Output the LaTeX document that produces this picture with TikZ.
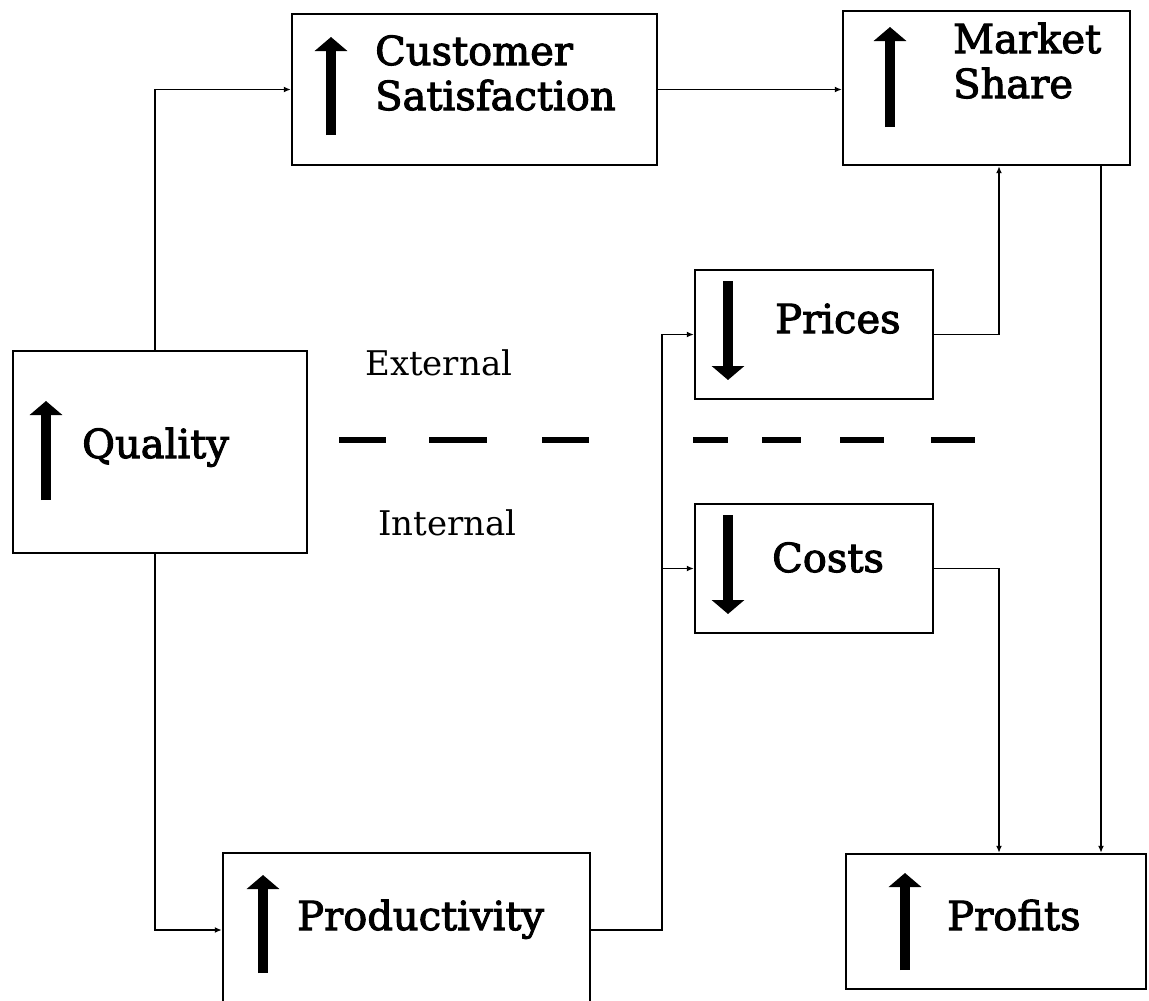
\documentclass[tikz,border=0pt]{standalone}
\usepackage{fontspec}
\setmainfont{DejaVu Serif}
\newfontfamily\boxfont{DejaVu Serif}[FakeBold=2.5]
\usetikzlibrary{arrows.meta}
\begin{document}
\begin{tikzpicture}[x=1pt,y=-1pt,
 box/.style={draw, line width=2.4pt, rectangle, inner sep=0pt},
 lbl/.style={anchor=base west, inner sep=0pt, font=\boxfont\fontsize{40}{44}\selectfont},
 side/.style={anchor=base west, inner sep=0pt, font=\fontsize{34}{38}\selectfont},
 conn/.style={line width=1.9pt, -{Latex[length=7pt,width=6pt]}},
 big/.style={line width=10pt, -{Triangle[length=14pt,width=32pt]}},
 dsh/.style={line width=6pt}]
\useasboundingbox (0,0) rectangle (1149,1001);
\fill[white] (0,0) rectangle (1149,1001);
\clip (0,0) rectangle (1149,1001);
% boxes
\node[box, minimum width=365pt, minimum height=151pt] (cs) at (474.5,89.5) {};
\node[box, minimum width=287pt, minimum height=154pt] (ms) at (986.5,88) {};
\node[box, minimum width=294pt, minimum height=202pt] (q) at (160,452) {};
\node[box, minimum width=238pt, minimum height=129pt] (pr) at (814,334.5) {};
\node[box, minimum width=238pt, minimum height=129pt] (co) at (814,568.5) {};
\node[box, minimum width=367pt, minimum height=154pt] (pd) at (406.5,930) {};
\node[box, minimum width=300pt, minimum height=135pt] (pf) at (996,921.5) {};
% helper coordinates
\coordinate (lb) at (155,0);
\coordinate (bus) at (662,0);
\coordinate (rb) at (999,0);
\coordinate (far) at (1101,0);
% connectors
\draw[conn] (lb |- q.north) |- (cs.west);
\draw[conn] (cs.east) -- (cs.east -| ms.west);
\draw[conn] (lb |- q.south) |- (pd.west);
\draw[conn] (pd.east) -| (bus |- pr.west) -- (pr.west);
\draw[conn] (bus |- co.west) -- (co.west);
\draw[conn] (pr.east) -| (rb |- ms.south);
\draw[conn] (co.east) -| (rb |- pf.north);
\draw[conn] (far |- ms.south) -- (far |- pf.north);
% dashed divider
\foreach \a/\b in {339/386,429/487,542/589,693/728,762/801,840/884,931/975}
  \draw[dsh] (\a,440) -- (\b,440);
% big arrows
\draw[big] (331,135) -- (331,37);
\draw[big] (890,127) -- (890,27);
\draw[big] (46,500) -- (46,401);
\draw[big] (728,281) -- (728,380);
\draw[big] (728,515) -- (728,614);
\draw[big] (263,973) -- (263,875);
\draw[big] (905,970) -- (905,873);
% labels
\node[lbl] (t1) at (375,65) {Customer};
\node[lbl] (t2) at (375,110) {Satisfaction};
\node[lbl] (t3) at (953,53) {Market};
\node[lbl] (t4) at (953,98) {Share};
\node[lbl] (t5) at (82,458) {Quality};
\node[lbl] (t6) at (775,333) {Prices};
\node[lbl] (t7) at (772,572) {Costs};
\node[lbl] (t8) at (297,930) {Productivity};
\node[lbl] (t9) at (947,930) {Profits};
\node[side] (ext) at (365,375) {External};
\node[side] (int) at (378,535) {Internal};
\end{tikzpicture}
\end{document}
